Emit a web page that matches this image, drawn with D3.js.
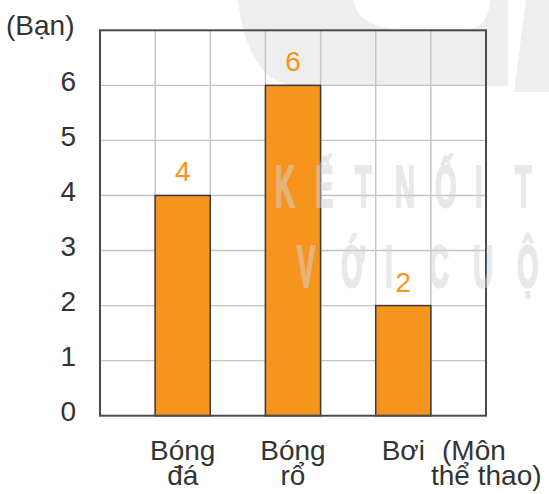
<!DOCTYPE html>
<html>
<head>
<meta charset="utf-8">
<script src="https://cdn.jsdelivr.net/npm/d3@7"></script>
<style>
  html, body { margin: 0; padding: 0; background: #fff; }
  svg { display: block; }
  text { font-family: "Liberation Sans", Arial, sans-serif; }
</style>
</head>
<body>
<svg id="chart" width="549" height="494"></svg>
<script>
// ---- data ----
const categories = ["Bóng đá", "Bóng rổ", "Bơi"];
const values = [4, 6, 2];
const yTicks = [0, 1, 2, 3, 4, 5, 6];
const yMax = 7;
const yTitle = "(Bạn)";
const xTitle = ["(Môn", "thể thao)"];
const watermark = ["KẾT NỐI TRI THỨC", "VỚI CUỘC SỐNG"];

// ---- layout ----
const plot = { left: 100, right: 486, top: 30.3, bottom: 415.7 };
const FS = 28;
const svg = d3.select("#chart");

const x = d3.scaleBand().domain(categories)
  .range([plot.left, plot.right]).paddingInner(0.5).paddingOuter(0.5);
const xGrid = d3.scaleLinear().domain([0, 7]).range([plot.left, plot.right]);
const y = d3.scaleLinear().domain([0, yMax]).range([plot.bottom, plot.top]);

// background logo watermark
const bg = svg.append("g");
bg.append("path")
  .attr("d", "M238,0 C244,50 262,86 300,86 L508,86 L508,0 Z")
  .attr("fill", "#eeeeee");
bg.append("path")
  .attr("d", "M353,0 C357,18 372,29 402,29 L468,29 C482,29 489,18 490,0 Z")
  .attr("fill", "#ffffff");
bg.append("path")
  .attr("d", "M526,0 L549,0 L549,92 L514,92 Z")
  .attr("fill", "#eeeeee");

// grid
const grid = svg.append("g").attr("stroke", "#c4c4c4").attr("stroke-width", 1.4);
grid.selectAll("line.v").data(d3.range(1, 7)).join("line")
  .attr("x1", d => xGrid(d)).attr("x2", d => xGrid(d))
  .attr("y1", plot.top).attr("y2", plot.bottom);
grid.selectAll("line.h").data(d3.range(1, yMax)).join("line")
  .attr("x1", plot.left).attr("x2", plot.right)
  .attr("y1", d => y(d)).attr("y2", d => y(d));

// bars
svg.append("g").selectAll("rect").data(categories).join("rect")
  .attr("x", d => x(d))
  .attr("y", (d, i) => y(values[i]))
  .attr("width", x.bandwidth())
  .attr("height", (d, i) => y(0) - y(values[i]))
  .attr("fill", "#f7941d")
  .attr("stroke", "#3a3a3a")
  .attr("stroke-width", 1.5);

// frame
svg.append("rect")
  .attr("x", plot.left).attr("y", plot.top)
  .attr("width", plot.right - plot.left).attr("height", plot.bottom - plot.top)
  .attr("fill", "none").attr("stroke", "#4a4a4a").attr("stroke-width", 2);

// value labels
svg.append("g").selectAll("text").data(categories).join("text")
  .attr("x", d => x(d) + x.bandwidth() / 2)
  .attr("y", (d, i) => y(values[i]) - 14)
  .attr("text-anchor", "middle")
  .attr("font-size", FS)
  .attr("fill", "#f7941d")
  .text((d, i) => values[i]);

// y axis tick labels
const yAxis = d3.axisLeft(y).tickValues(yTicks).tickFormat(d3.format("d"))
  .tickSize(0).tickPadding(24);
const gy = svg.append("g").attr("transform", `translate(${plot.left},0)`).call(yAxis);
gy.select(".domain").remove();
gy.selectAll("text")
  .attr("font-size", FS)
  .attr("fill", "#333")
  .attr("font-family", "'Liberation Sans', Arial, sans-serif")
  .attr("dy", "0.18em");

svg.append("text").attr("x", 6).attr("y", 35)
  .attr("font-size", FS).attr("fill", "#333").text(yTitle);

// x labels
const gx = svg.append("g");
categories.forEach((c) => {
  const cx = x(c) + x.bandwidth() / 2;
  c.split(" ").forEach((w, j) => {
    gx.append("text").attr("x", cx).attr("y", 460 + j * 25)
      .attr("text-anchor", "middle")
      .attr("font-size", FS).attr("fill", "#333").text(w);
  });
});
svg.append("text").attr("x", 442).attr("y", 460)
  .attr("font-size", FS).attr("fill", "#333").text(xTitle[0]);
svg.append("text").attr("x", 431).attr("y", 485)
  .attr("font-size", FS).attr("fill", "#333").text(xTitle[1]);

// watermark text (condensed, evenly spaced letters)
const sx = 0.46;
const wmRows = [
  { text: watermark[0], x0: 275, y: 207, step: 40 },
  { text: watermark[1], x0: 297, y: 287, step: 44 }
];
const wm = svg.append("g")
  .attr("opacity", 0.5)
  .attr("fill", "#d2d2d2")
  .attr("stroke", "#d2d2d2")
  .attr("stroke-width", 1.6)
  .attr("stroke-linejoin", "round")
  .attr("font-family", "'DejaVu Sans', sans-serif")
  .attr("font-weight", "bold")
  .attr("font-size", 60);
wmRows.forEach(r => {
  const chars = Array.from(r.text);
  let k = 0;
  const xs = chars.map(ch => {
    const p = (k * r.step) / sx;
    if (ch !== " ") k += 1;
    return p.toFixed(1);
  });
  wm.append("text")
    .attr("transform", `translate(${r.x0},${r.y}) scale(${sx},1)`)
    .attr("vector-effect", "non-scaling-stroke")
    .attr("x", xs.join(" "))
    .text(r.text);
});
</script>
</body>
</html>
